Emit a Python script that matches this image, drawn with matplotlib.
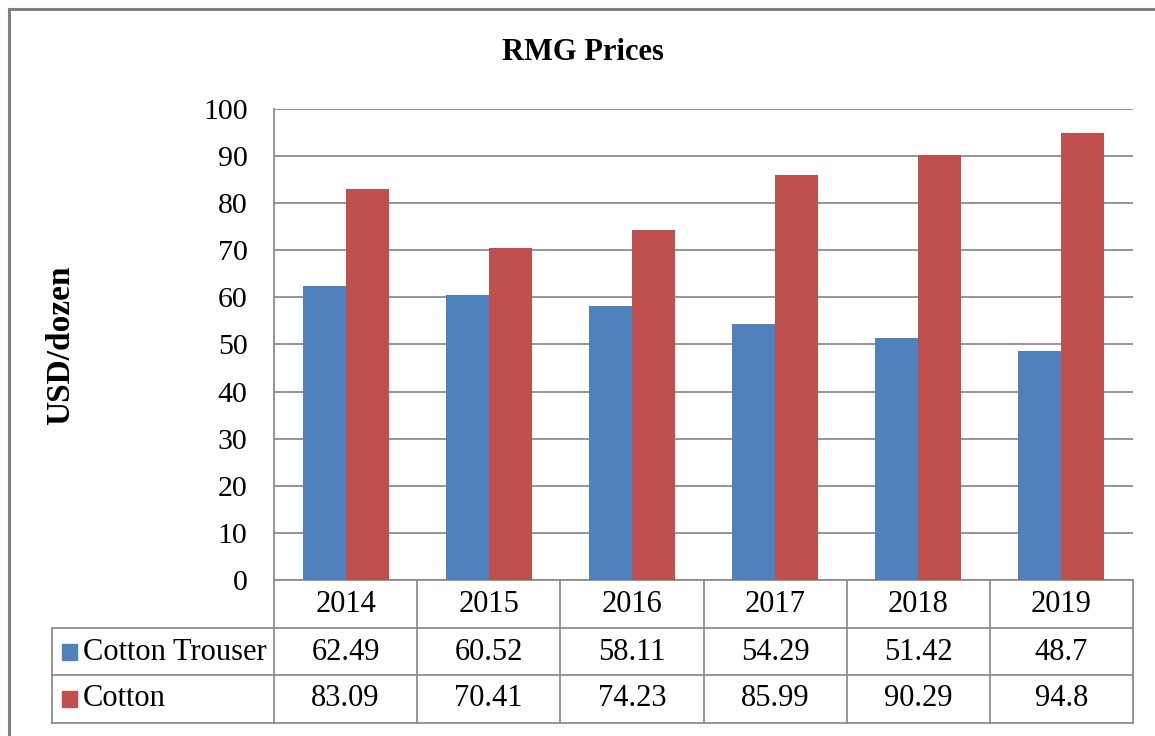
import matplotlib
matplotlib.use("Agg")
import matplotlib.pyplot as plt
import matplotlib.transforms as mtransforms
import numpy as np

# data
years = ['2014', '2015', '2016', '2017', '2018', '2019']
trouser = [62.49, 60.52, 58.11, 54.29, 51.42, 48.7]
cotton = [83.09, 70.41, 74.23, 85.99, 90.29, 94.8]
series_names = ['Cotton Trouser', 'Cotton']

blue = '#4F81BD'
red = '#C0504D'
grid_c = '#8C8C8C'
fs = 22

plt.rcParams['font.family'] = ['Liberation Serif', 'DejaVu Serif']

W, H = 1155, 736
fig = plt.figure(figsize=(W / 100, H / 100), dpi=100)

# plot area in pixels: left 274, right 1133, top 109, bottom 580
ax = fig.add_axes([274 / W, 1 - 580 / H, (1133 - 274) / W, (580 - 109) / H])

x = np.arange(len(years))
bw = 0.3
ax.bar(x - bw / 2, trouser, bw, color=blue, zorder=3)
ax.bar(x + bw / 2, cotton, bw, color=red, zorder=3)

ax.set_xlim(-0.5, len(years) - 0.5)
ax.set_ylim(0, 100)
ax.set_yticks(range(0, 101, 10))
ax.set_xticks([])
ax.grid(axis='y', color=grid_c, linewidth=1.3, zorder=0)
for s in ['top', 'right']:
    ax.spines[s].set_visible(False)
for s in ['left', 'bottom']:
    ax.spines[s].set_color(grid_c)
    ax.spines[s].set_linewidth(1.3)
ax.tick_params(axis='y', length=0, pad=19, labelsize=21.5)

# overlay in pixel coordinates for title, labels and the data table
ov = fig.add_axes([0, 0, 1, 1], zorder=5)
ov.set_xlim(0, W)
ov.set_ylim(H, 0)
ov.axis('off')

ov.text(583, 52, 'RMG Prices', ha='center', va='center', fontsize=fs, fontweight='bold')
ov.text(61, 345, 'USD/dozen', ha='center', va='center', rotation=90, fontsize=24, fontweight='bold')

# outer chart border (top and left only are visible)
ov.plot([9, W], [9, 9], color='#808080', lw=2.2)
ov.plot([9, 9], [9, H], color='#808080', lw=2.2)

# data table below the axis
tr = mtransforms.blended_transform_factory(ax.transData, ov.transData)
row_y = [580, 628, 675, 723]
right_px = 1133
for i in range(len(years) + 1):
    ov.plot([i - 0.5, i - 0.5], [580, 723], color=grid_c, lw=1.3, transform=tr)
for y in row_y[1:]:
    ov.plot([52, right_px], [y, y], color=grid_c, lw=1.3)
ov.plot([52, 52], [628, 723], color=grid_c, lw=1.3)

for i, yr in enumerate(years):
    ov.text(i, 605, yr, ha='center', va='center', fontsize=fs, transform=tr)
    ov.text(i, 652, f'{trouser[i]:g}', ha='center', va='center', fontsize=fs, transform=tr)
    ov.text(i, 699, f'{cotton[i]:g}', ha='center', va='center', fontsize=fs, transform=tr)

for name, col, yc in zip(series_names, [blue, red], [652, 699]):
    ov.add_patch(plt.Rectangle((62, yc - 8), 15, 16, color=col))
    ov.text(83, yc, name, ha='left', va='center', fontsize=fs)

fig.savefig('out.png', dpi=100)
